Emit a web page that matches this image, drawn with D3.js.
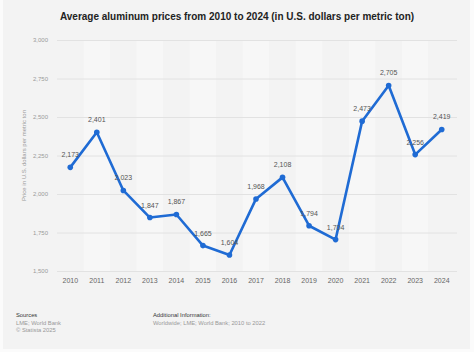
<!DOCTYPE html>
<html>
<head>
<meta charset="utf-8">
<script src="https://cdn.jsdelivr.net/npm/d3@7"></script>
<style>
  body { margin: 0; background: #fbfbfb; }
  svg { display: block; font-family: "Liberation Sans", Arial, sans-serif; }
</style>
</head>
<body>
<div id="chart"></div>
<script>
let years = [2010, 2011, 2012, 2013, 2014, 2015, 2016, 2017, 2018, 2019, 2020, 2021, 2022, 2023, 2024];
let prices = [2173, 2401, 2023, 1847, 1867, 1665, 1604, 1968, 2108, 1794, 1704, 2473, 2705, 2256, 2419];
let yTicks = [1500, 1750, 2000, 2250, 2500, 2750, 3000];

let width = 474, height = 352;
let margin = {top: 40, left: 57, right: 19, bottom: 81};

let svg = d3.select('#chart').append('svg').attr('width', width).attr('height', height);

// card background
svg.append('rect').attr('x', 3).attr('y', 0).attr('width', 467).attr('height', 349).attr('fill', '#f3f3f3');

let x = d3.scaleBand().domain(years).range([margin.left, width - margin.right]);
let y = d3.scaleLinear().domain([1500, 3000]).range([height - margin.bottom, margin.top]);

// alternating column bands
svg.selectAll('.band').data(years).enter().append('rect')
    .attr('class', 'band')
    .attr('x', function(d){ return x(d); })
    .attr('y', y(3000))
    .attr('width', x.bandwidth())
    .attr('height', y(1500) - y(3000))
    .attr('fill', function(d, i){ return i % 2 ? '#f7f7f7' : '#f3f3f3'; });

// gridlines
svg.selectAll('.grid').data(yTicks).enter().append('line')
    .attr('x1', margin.left).attr('x2', width - margin.right + 2)
    .attr('y1', function(d){ return y(d) + 0.5; }).attr('y2', function(d){ return y(d) + 0.5; })
    .attr('stroke', '#e2e2e2').attr('stroke-width', 1);

// y axis labels
let yAxis = d3.axisLeft(y).tickValues(yTicks).tickSize(0).tickPadding(9).tickFormat(d3.format(','));
let gy = svg.append('g').attr('transform', 'translate(' + margin.left + ',0)').call(yAxis);
gy.select('.domain').remove();
gy.selectAll('text').attr('fill', '#9a9a9a').attr('font-size', '6px');

// x axis labels
let xAxis = d3.axisBottom(x).tickSize(0).tickPadding(7);
let gx = svg.append('g').attr('transform', 'translate(0,' + y(1500) + ')').call(xAxis);
gx.select('.domain').remove();
gx.selectAll('text').attr('fill', '#666').attr('font-size', '7px');

// y axis title
svg.append('text')
    .attr('transform', 'translate(26,' + (y(2250)) + ') rotate(-90)')
    .attr('text-anchor', 'middle')
    .attr('fill', '#9a9a9a').attr('font-size', '6px')
    .text('Price in U.S. dollars per metric ton');

// line
let cx = function(d, i){ return x(years[i]) + x.bandwidth() / 2; };
let line = d3.line().x(cx).y(function(d){ return y(d); });
svg.append('path').datum(prices)
    .attr('d', line)
    .attr('fill', 'none')
    .attr('stroke', '#1f6bd4')
    .attr('stroke-width', 2.6)
    .attr('stroke-linejoin', 'round');

svg.selectAll('.dot').data(prices).enter().append('circle')
    .attr('cx', cx).attr('cy', function(d){ return y(d); })
    .attr('r', 2.8).attr('fill', '#1f6bd4');

// value labels
svg.selectAll('.val').data(prices).enter().append('text')
    .attr('x', cx).attr('y', function(d){ return y(d) - 10; })
    .attr('text-anchor', 'middle')
    .attr('fill', '#555').attr('font-size', '7px')
    .text(d3.format(','));

// title
svg.append('text')
    .attr('x', 237).attr('y', 20)
    .attr('text-anchor', 'middle')
    .attr('font-weight', 'bold').attr('font-size', '10px').attr('fill', '#222')
    .text('Average aluminum prices from 2010 to 2024 (in U.S. dollars per metric ton)');

// footer
let foot = svg.append('g').attr('font-size', '5.8px');
foot.append('text').attr('x', 16).attr('y', 317).attr('fill', '#333').text('Sources');
foot.append('text').attr('x', 16).attr('y', 325).attr('fill', '#999').text('LME; World Bank');
foot.append('text').attr('x', 16).attr('y', 332).attr('fill', '#999').text('© Statista 2025');
foot.append('text').attr('x', 153).attr('y', 317).attr('fill', '#333').text('Additional Information:');
foot.append('text').attr('x', 153).attr('y', 325).attr('fill', '#999').text('Worldwide; LME; World Bank; 2010 to 2022');
</script>
</body>
</html>
